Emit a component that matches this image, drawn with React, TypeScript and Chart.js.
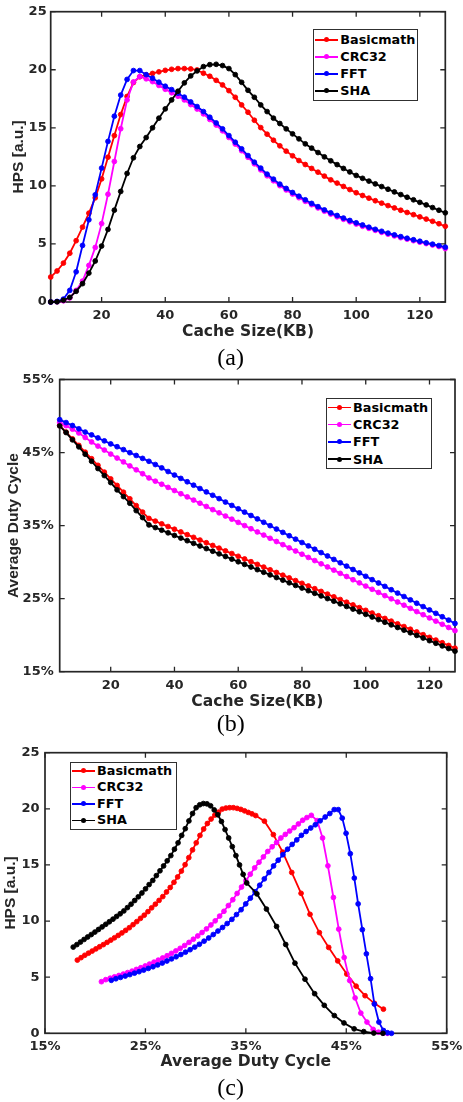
import React, { useEffect, useRef } from "react";
import { Chart, registerables } from "chart.js";

Chart.register(...registerables);

// ---------------- data ----------------
const cacheSizeKB = [4, 6, 8, 10, 12, 14, 16, 18, 20, 22, 24, 26, 28, 30, 32, 34, 36, 38, 40, 42, 44, 46, 48, 50, 52, 54, 56, 58, 60, 62, 64, 66, 68, 70, 72, 74, 76, 78, 80, 82, 84, 86, 88, 90, 92, 94, 96, 98, 100, 102, 104, 106, 108, 110, 112, 114, 116, 118, 120, 122, 124, 126, 128];

const hpsBasicmath = [2.15, 2.67, 3.35, 4.2, 5.28, 6.45, 7.65, 8.97, 10.6, 12.47, 14.33, 16.14, 17.7, 18.9, 19.4, 19.55, 19.68, 19.82, 19.95, 20.04, 20.1, 20.1, 20.07, 19.98, 19.7, 19.44, 19.09, 18.69, 18.2, 17.63, 16.97, 16.34, 15.65, 15.02, 14.45, 13.93, 13.45, 12.99, 12.59, 12.18, 11.84, 11.5, 11.18, 10.84, 10.52, 10.24, 9.95, 9.68, 9.41, 9.17, 8.94, 8.72, 8.51, 8.3, 8.1, 7.9, 7.71, 7.52, 7.33, 7.14, 6.95, 6.74, 6.52];
const hpsCRC32 = [0, 0.02, 0.1, 0.35, 1.0, 1.8, 3.15, 4.7, 6.75, 9.28, 12.1, 14.92, 17.4, 18.95, 19.42, 19.22, 18.98, 18.65, 18.32, 18.02, 17.72, 17.4, 17.0, 16.62, 16.2, 15.72, 15.24, 14.74, 14.17, 13.6, 13.03, 12.46, 11.9, 11.38, 10.87, 10.44, 10.02, 9.65, 9.3, 8.98, 8.67, 8.38, 8.1, 7.82, 7.57, 7.34, 7.12, 6.91, 6.71, 6.52, 6.34, 6.17, 6.0, 5.84, 5.69, 5.54, 5.41, 5.28, 5.15, 5.03, 4.91, 4.78, 4.6];
const hpsFFT = [0, 0.05, 0.25, 1.0, 2.6, 4.87, 7.08, 9.23, 11.53, 13.83, 16.0, 17.82, 19.17, 19.93, 19.93, 19.58, 19.27, 18.93, 18.58, 18.29, 17.98, 17.64, 17.23, 16.83, 16.4, 15.91, 15.42, 14.91, 14.33, 13.76, 13.19, 12.61, 12.04, 11.53, 11.01, 10.58, 10.15, 9.78, 9.43, 9.11, 8.8, 8.49, 8.21, 7.93, 7.68, 7.45, 7.23, 7.02, 6.82, 6.63, 6.44, 6.26, 6.09, 5.93, 5.78, 5.63, 5.49, 5.36, 5.23, 5.1, 4.98, 4.86, 4.72];
const hpsSHA = [0, 0.02, 0.15, 0.4, 0.92, 1.58, 2.49, 3.53, 4.82, 6.25, 7.91, 9.52, 11.07, 12.42, 13.39, 14.16, 15.0, 15.83, 16.63, 17.4, 18.15, 18.87, 19.47, 19.9, 20.27, 20.44, 20.47, 20.36, 20.1, 19.58, 18.92, 18.23, 17.63, 16.97, 16.4, 15.83, 15.37, 14.91, 14.48, 14.05, 13.62, 13.25, 12.87, 12.5, 12.16, 11.83, 11.5, 11.2, 10.9, 10.65, 10.41, 10.17, 9.94, 9.71, 9.48, 9.25, 9.02, 8.8, 8.58, 8.36, 8.13, 7.9, 7.68];

const dutyBasicmath = [48.7, 47.8, 46.87, 45.98, 45.05, 44.15, 43.25, 42.32, 41.39, 40.5, 39.57, 38.67, 37.74, 36.85, 35.98, 35.61, 35.24, 34.87, 34.5, 34.13, 33.76, 33.39, 33.02, 32.65, 32.28, 31.91, 31.54, 31.17, 30.8, 30.43, 30.06, 29.69, 29.32, 28.95, 28.58, 28.21, 27.84, 27.47, 27.1, 26.73, 26.36, 25.99, 25.62, 25.25, 24.88, 24.51, 24.14, 23.77, 23.4, 23.03, 22.66, 22.29, 21.92, 21.55, 21.18, 20.81, 20.44, 20.07, 19.7, 19.33, 18.96, 18.59, 18.22];
const dutyCRC32 = [49.1, 48.68, 48.2, 47.68, 47.06, 46.45, 45.88, 45.34, 44.79, 44.25, 43.72, 43.17, 42.64, 42.1, 41.52, 41.08, 40.66, 40.23, 39.8, 39.36, 38.93, 38.49, 38.06, 37.62, 37.18, 36.75, 36.31, 35.88, 35.44, 35.0, 34.57, 34.13, 33.7, 33.26, 32.82, 32.39, 31.95, 31.52, 31.08, 30.64, 30.21, 29.77, 29.34, 28.9, 28.46, 28.03, 27.59, 27.16, 26.72, 26.28, 25.85, 25.41, 24.98, 24.54, 24.1, 23.67, 23.23, 22.8, 22.36, 21.92, 21.49, 21.05, 20.62];
const dutyFFT = [49.5, 49.1, 48.7, 48.25, 47.8, 47.42, 47.0, 46.6, 46.18, 45.8, 45.4, 44.98, 44.6, 44.2, 43.8, 43.36, 42.9, 42.4, 41.92, 41.46, 41.0, 40.53, 40.07, 39.61, 39.15, 38.69, 38.22, 37.76, 37.3, 36.84, 36.38, 35.92, 35.45, 34.99, 34.53, 34.07, 33.61, 33.14, 32.68, 32.22, 31.76, 31.3, 30.84, 30.37, 29.91, 29.45, 28.99, 28.53, 28.06, 27.6, 27.14, 26.68, 26.22, 25.76, 25.29, 24.83, 24.37, 23.91, 23.45, 22.99, 22.52, 22.06, 21.6];
const dutySHA = [48.65, 47.74, 46.74, 45.78, 44.77, 43.81, 42.81, 41.85, 40.89, 39.89, 38.97, 38.06, 37.05, 36.1, 35.09, 34.73, 34.37, 34.01, 33.65, 33.29, 32.93, 32.57, 32.21, 31.85, 31.49, 31.13, 30.77, 30.41, 30.05, 29.69, 29.33, 28.97, 28.61, 28.25, 27.89, 27.53, 27.17, 26.81, 26.45, 26.09, 25.73, 25.37, 25.01, 24.65, 24.29, 23.93, 23.57, 23.21, 22.85, 22.49, 22.13, 21.77, 21.41, 21.05, 20.69, 20.33, 19.97, 19.61, 19.25, 18.89, 18.53, 18.17, 17.81];

const seriesNames = ["Basicmath", "CRC32", "FFT", "SHA"];
const seriesColors = ["#ff0000", "#ff00ff", "#0000ff", "#000000"];

const cacheTicks = [20, 40, 60, 80, 100, 120];
const hpsTicks = [0, 5, 10, 15, 20, 25];
const dutyTicks = [15, 25, 35, 45, 55];

// ---------------- styling ----------------
const AXIS_COLOR = "#262626";
const TICK_FONT = { family: "'DejaVu Sans'", weight: "bold" as const, size: 13 };
const XTITLE_FONT = { family: "'DejaVu Sans'", weight: "bold" as const, size: 15.5 };
const YTITLE_FONT = { family: "'Liberation Sans', Arial", weight: "bold" as const, size: 15.5 };

const boxPlugin = {
  id: "matlabBox",
  beforeDatasetsDraw(chart: any) {
    const { ctx, chartArea, scales } = chart;
    const { left, right, top, bottom } = chartArea;
    ctx.save();
    ctx.strokeStyle = AXIS_COLOR;
    ctx.lineWidth = 1.3;
    const tl = 5;
    ctx.beginPath();
    scales.x.ticks.forEach((t: any) => {
      const px = scales.x.getPixelForValue(t.value);
      ctx.moveTo(px, bottom);
      ctx.lineTo(px, bottom - tl);
      ctx.moveTo(px, top);
      ctx.lineTo(px, top + tl);
    });
    scales.y.ticks.forEach((t: any) => {
      const py = scales.y.getPixelForValue(t.value);
      ctx.moveTo(left, py);
      ctx.lineTo(left + tl, py);
      ctx.moveTo(right, py);
      ctx.lineTo(right - tl, py);
    });
    ctx.stroke();
    ctx.lineWidth = 1.7;
    ctx.strokeRect(left, top, right - left, bottom - top);
    ctx.restore();
  },
};

function buildDatasets(xs: number[][], ys: number[][]) {
  return seriesNames.map((name, i) => ({
    label: name,
    data: xs[i].map((x, j) => ({ x, y: ys[i][j] })),
    borderColor: seriesColors[i],
    backgroundColor: seriesColors[i],
    pointBackgroundColor: seriesColors[i],
    pointBorderColor: seriesColors[i],
    borderWidth: 1.8,
    pointRadius: 2.4,
    pointBorderWidth: 0.9,
    pointHoverRadius: 2.4,
    tension: 0,
    clip: false as any,
    order: seriesNames.length - 1 - i,
  }));
}

type AxisSpec = {
  min: number;
  max: number;
  ticks: number[];
  fmt: (v: number) => string;
  size: number;
  tickPad: number;
  title: string;
  titlePad: any;
};

function axis(spec: AxisSpec, horizontal: boolean) {
  return {
    type: "linear" as const,
    min: spec.min,
    max: spec.max,
    afterBuildTicks: (s: any) => {
      s.ticks = spec.ticks.map((v) => ({ value: v }));
    },
    afterFit: (s: any) => {
      if (horizontal) s.height = spec.size;
      else s.width = spec.size;
      s.paddingLeft = 0;
      s.paddingRight = 0;
      s.paddingTop = 0;
      s.paddingBottom = 0;
    },
    grid: { display: false, drawTicks: false },
    border: { display: false },
    ticks: {
      font: TICK_FONT,
      color: AXIS_COLOR,
      padding: spec.tickPad,
      maxRotation: 0,
      minRotation: 0,
      autoSkip: false,
      callback: (v: any) => spec.fmt(Number(v)),
    },
    title: {
      display: true,
      text: spec.title,
      font: horizontal ? XTITLE_FONT : YTITLE_FONT,
      color: AXIS_COLOR,
      padding: spec.titlePad,
    },
  };
}

type PanelProps = {
  top: number;
  height: number;
  pad: { top: number; right: number };
  xs: number[][];
  ys: number[][];
  x: AxisSpec;
  y: AxisSpec;
};

function Panel({ top, height, pad, xs, ys, x, y }: PanelProps) {
  const ref = useRef<HTMLCanvasElement | null>(null);
  useEffect(() => {
    if (!ref.current) return;
    const chart = new Chart(ref.current, {
      type: "line",
      data: { datasets: buildDatasets(xs, ys) as any },
      options: {
        responsive: false,
        animation: false,
        devicePixelRatio: 1,
        events: [],
        layout: { padding: { left: 0, right: pad.right, top: pad.top, bottom: 0 } },
        plugins: { legend: { display: false }, tooltip: { enabled: false } },
        scales: { x: axis(x, true) as any, y: axis(y, false) as any },
      },
      plugins: [boxPlugin],
    });
    return () => chart.destroy();
  }, []);
  return (
    <canvas
      ref={ref}
      width={463}
      height={height}
      style={{ position: "absolute", left: 0, top, width: 463, height }}
    />
  );
}

function Legend({ left, top, width, height, rowH, padTop }: { left: number; top: number; width: number; height: number; rowH: number; padTop: number }) {
  return (
    <div
      style={{
        position: "absolute",
        left,
        top,
        width,
        height,
        boxSizing: "border-box",
        border: "1.5px solid #303030",
        background: "#fff",
        paddingTop: padTop,
      }}
    >
      {seriesNames.map((n, i) => (
        <div key={n} style={{ height: rowH, display: "flex", alignItems: "center" }}>
          <span style={{ position: "relative", display: "inline-block", width: 23, height: rowH, marginLeft: 1 }}>
            <span style={{ position: "absolute", left: 0, width: 23, top: rowH / 2 - 0.8, height: 1.6, background: seriesColors[i] }} />
            <span style={{ position: "absolute", left: 9, top: rowH / 2 - 2.5, width: 5, height: 5, borderRadius: "50%", background: seriesColors[i] }} />
          </span>
          <span style={{ marginLeft: 2, font: "bold 12.8px 'DejaVu Sans'", color: "#000", lineHeight: rowH + "px", whiteSpace: "nowrap" }}>{n}</span>
        </div>
      ))}
    </div>
  );
}

function Caption({ text, cy }: { text: string; cy: number }) {
  return (
    <div
      style={{
        position: "absolute",
        left: 180.7,
        width: 100,
        top: cy - 14,
        height: 28,
        lineHeight: "28px",
        textAlign: "center",
        fontFamily: "'Liberation Serif', 'Times New Roman', serif",
        fontSize: 24,
        color: "#000",
      }}
    >
      {text}
    </div>
  );
}

const pct = (v: number) => v + "%";
const num = (v: number) => String(v);

export default function App() {
  const four = (a: number[]) => [a, a, a, a];
  return (
    <div style={{ position: "absolute", left: 0, top: 0, width: 463, height: 1102, background: "#fff", overflow: "hidden" }}>
      <Panel
        top={0}
        height={345}
        pad={{ top: 11.7, right: 17.7 }}
        xs={four(cacheSizeKB)}
        ys={[hpsBasicmath, hpsCRC32, hpsFFT, hpsSHA]}
        x={{ min: 4, max: 128, ticks: cacheTicks, fmt: num, size: 43, tickPad: 6, title: "Cache Size(KB)", titlePad: { top: 0, bottom: 4 } }}
        y={{ min: 0, max: 25, ticks: hpsTicks, fmt: num, size: 50.7, tickPad: 4, title: "HPS [a.u.]", titlePad: { top: 9, bottom: 0 } }}
      />
      <Panel
        top={365}
        height={350}
        pad={{ top: 14.5, right: 8 }}
        xs={four(cacheSizeKB)}
        ys={[dutyBasicmath, dutyCRC32, dutyFFT, dutySHA]}
        x={{ min: 4, max: 128, ticks: cacheTicks, fmt: num, size: 43.3, tickPad: 6, title: "Cache Size(KB)", titlePad: { top: 0, bottom: 4 } }}
        y={{ min: 15, max: 55, ticks: dutyTicks, fmt: pct, size: 59.7, tickPad: 6, title: "Average Duty Cycle", titlePad: { top: 4, bottom: 0 } }}
      />
      <Panel
        top={735}
        height={340}
        pad={{ top: 17.7, right: 16.3 }}
        xs={[dutyBasicmath, dutyCRC32, dutyFFT, dutySHA]}
        ys={[hpsBasicmath, hpsCRC32, hpsFFT, hpsSHA]}
        x={{ min: 15, max: 55, ticks: dutyTicks, fmt: pct, size: 41.7, tickPad: 6, title: "Average Duty Cycle", titlePad: { top: 0, bottom: 4 } }}
        y={{ min: 0, max: 25, ticks: hpsTicks, fmt: num, size: 45, tickPad: 5.5, title: "HPS [a.u.]", titlePad: { top: 1.4, bottom: 0 } }}
      />
      <Legend left={313.3} top={29.3} width={105} height={71.5} rowH={17} padTop={1} />
      <Legend left={326} top={397.7} width={105.7} height={71.6} rowH={17.3} padTop={0} />
      <Legend left={70} top={761.7} width={106.7} height={68.3} rowH={16.5} padTop={0} />
      <Caption text="(a)" cy={356.7} />
      <Caption text="(b)" cy={723} />
      <Caption text="(c)" cy={1086.7} />
    </div>
  );
}
